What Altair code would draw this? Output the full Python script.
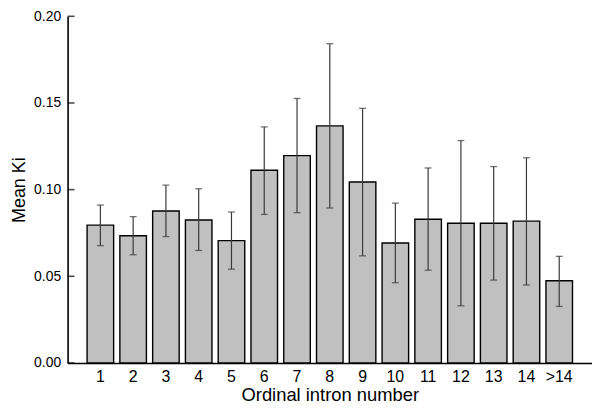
import altair as alt
import pandas as pd

categories = ["1", "2", "3", "4", "5", "6", "7", "8", "9", "10", "11", "12", "13", "14", ">14"]
mean_ki = [0.0795, 0.0734, 0.0877, 0.0825, 0.0706, 0.1112, 0.1196, 0.1368, 0.1044,
           0.0692, 0.0829, 0.0806, 0.0806, 0.0818, 0.0474]
err_hi = [0.0911, 0.0844, 0.1026, 0.1005, 0.0871, 0.1362, 0.1526, 0.1842, 0.1469,
          0.0922, 0.1125, 0.1283, 0.1133, 0.1184, 0.0615]
err_lo = [0.0677, 0.0624, 0.0729, 0.0649, 0.0541, 0.0857, 0.0867, 0.0894, 0.0618,
          0.0463, 0.0535, 0.0330, 0.0478, 0.0450, 0.0326]
y_ticks = [0.0, 0.05, 0.10, 0.15, 0.20]

df = pd.DataFrame({"cat": categories, "mean": mean_ki, "hi": err_hi, "lo": err_lo})
tick_df = pd.DataFrame({"v": y_ticks})

FONT = "Liberation Sans"

x_enc = alt.X("cat:N", sort=categories,
              scale=alt.Scale(paddingInner=0.19, paddingOuter=0.595),
              axis=alt.Axis(title="Ordinal intron number", labelAngle=0, ticks=False,
                            labelFontSize=16, titleFontSize=18.5, labelPadding=6,
                            titlePadding=1, titleFontWeight="normal",
                            domainColor="black", domainWidth=1.6,
                            labelColor="black", titleColor="black",
                            labelFont=FONT, titleFont=FONT))
y_scale = alt.Scale(domain=[0, 0.2], nice=False, zero=True)

bars = alt.Chart(df).mark_bar(fill="#c0c0c0", stroke="black", strokeWidth=1.4).encode(
    x=x_enc,
    y=alt.Y("mean:Q", scale=y_scale,
            axis=alt.Axis(title="Mean Ki", values=y_ticks, format=".2f", ticks=False,
                          grid=False, labelFontSize=14, titleFontSize=18,
                          labelPadding=7, titlePadding=5, titleFontWeight="normal",
                          domainColor="black", domainWidth=1.6,
                          labelColor="black", titleColor="black",
                          labelFont=FONT, titleFont=FONT)),
)

rules = alt.Chart(df).mark_rule(color="#3a3a3a", strokeWidth=1.2).encode(
    x=alt.X("cat:N", sort=categories),
    y=alt.Y("lo:Q", scale=y_scale),
    y2="hi:Q",
)

caps_hi = alt.Chart(df).mark_tick(color="#3a3a3a", thickness=1.3, size=7).encode(
    x=alt.X("cat:N", sort=categories),
    y=alt.Y("hi:Q", scale=y_scale),
)
caps_lo = alt.Chart(df).mark_tick(color="#3a3a3a", thickness=1.3, size=7).encode(
    x=alt.X("cat:N", sort=categories),
    y=alt.Y("lo:Q", scale=y_scale),
)

yticks = alt.Chart(tick_df).mark_tick(color="black", thickness=1.6, size=7,
                                      orient="horizontal").encode(
    y=alt.Y("v:Q", scale=y_scale),
    x=alt.value(3.5),
)

chart = alt.layer(bars, rules, caps_hi, caps_lo, yticks).properties(
    width=528, height=349,
    autosize=alt.AutoSizeParams(type="none"),
    padding={"left": 60, "top": 7, "right": 0, "bottom": 46},
    background="white",
).configure_view(stroke=None).configure_axis(grid=False)

chart.save("out.html", embed_options={"renderer": "svg", "actions": False})
